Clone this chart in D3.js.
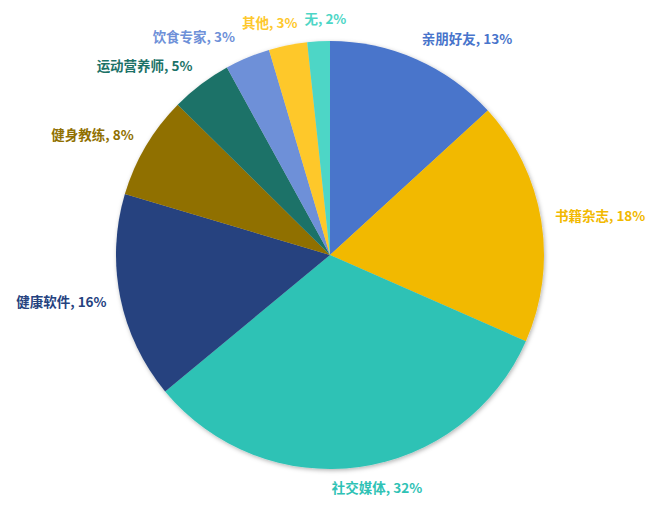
<!DOCTYPE html>
<html>
<head>
<meta charset="utf-8">
<script src="https://cdn.jsdelivr.net/npm/d3@7"></script>
<style>
  body { margin: 0; background: #fff; }
  text { font-family: "Noto Sans CJK SC", "Noto Sans", sans-serif; font-weight: bold; font-size: 13.5px; }
</style>
</head>
<body>
<div id="chart"></div>
<script>
// slices, clockwise from 12 o'clock (shares, labels show them rounded)
var categories = ["亲朋好友", "书籍杂志", "社交媒体", "健康软件", "健身教练", "运动营养师", "饮食专家", "其他", "无"];
var shares = [13.2, 18.4, 32.4, 15.6, 7.8, 4.6, 3.4, 2.9, 1.7];
var colors = ["#4874CB", "#F2B900", "#2FC2B5", "#25427F", "#907000", "#1C7267", "#6E90D8", "#FEC82C", "#4DD6C6"];

function init() {
    var w = 660, h = 511;
    var cx = 330, cy = 255, r = 214;
    var labelRx = 228, labelRy = 236;

    var svg = d3.select("#chart")
        .append("svg")
        .attr("width", w)
        .attr("height", h);

    // soft grey shadow round the pie
    var filter = svg.append("defs").append("filter")
        .attr("id", "shadow")
        .attr("x", "-10%").attr("y", "-10%")
        .attr("width", "120%").attr("height", "120%");
    filter.append("feDropShadow")
        .attr("dx", 1).attr("dy", 1.5)
        .attr("stdDeviation", 2.2)
        .attr("flood-color", "#000")
        .attr("flood-opacity", 0.3);

    var data = categories.map(function (c, i) {
        return { name: c, value: shares[i], color: colors[i] };
    });

    var pie = d3.pie()
        .sort(null)
        .value(function (d) { return d.value; });

    var arc = d3.arc().innerRadius(0).outerRadius(r);
    var arcs = pie(data);

    var g = svg.append("g")
        .attr("transform", "translate(" + cx + "," + cy + ")");

    g.append("g")
        .attr("filter", "url(#shadow)")
        .selectAll("path")
        .data(arcs)
        .enter()
        .append("path")
        .attr("d", arc)
        .style("fill", function (d) { return d.data.color; });

    // labels outside the pie
    var labels = g.selectAll("text")
        .data(arcs)
        .enter()
        .append("text")
        .attr("dy", "0.35em")
        .style("fill", function (d) { return d.data.color; })
        .text(function (d) { return d.data.name + ", " + Math.round(d.data.value) + "%"; });

    var boxes = [];
    labels.each(function (d) {
        var a = (d.startAngle + d.endAngle) / 2;
        var s = Math.sin(a), c = Math.cos(a);
        var x = labelRx * s, y = -labelRy * c;
        var tw = this.getComputedTextLength();
        // anchor slides from start (right side) to end (left side)
        var f = Math.max(0, Math.min(1, (1 - s / 0.4) / 2));
        boxes.push({ node: this, left: x - tw * f, width: tw, y: y });
    });

    // push apart labels that collide
    for (var k = 0; k < 5; k++) {
        for (var i = 0; i < boxes.length; i++) {
            for (var j = i + 1; j < boxes.length; j++) {
                var a1 = boxes[i], b1 = boxes[j];
                if (Math.abs(a1.y - b1.y) > 16) continue;
                var first = a1.left < b1.left ? a1 : b1;
                var second = first === a1 ? b1 : a1;
                var overlap = first.left + first.width + 7 - second.left;
                if (overlap > 0) {
                    first.left -= overlap / 2;
                    second.left += overlap / 2;
                }
            }
        }
    }

    boxes.forEach(function (b) {
        d3.select(b.node)
            .attr("x", b.left)
            .attr("y", b.y);
    });
}

window.onload = init;
</script>
</body>
</html>
